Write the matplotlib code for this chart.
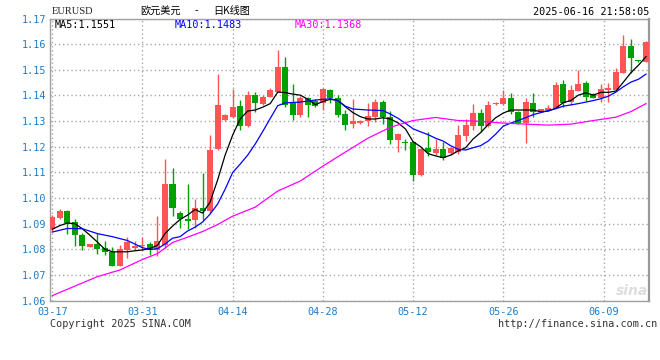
import matplotlib
matplotlib.use('Agg')
import matplotlib.pyplot as plt
import numpy as np

# ---------------- data ----------------
opens = [1.0880, 1.0923, 1.0950, 1.0908, 1.0855, 1.0810, 1.0820, 1.0803, 1.0790, 1.0735,
         1.0797, 1.0804, 1.0811, 1.0820, 1.0797, 1.0818, 1.1054, 1.0942, 1.0917, 1.0914,
         1.0959, 1.0950, 1.1192, 1.1304, 1.1316, 1.1358, 1.1280, 1.1401, 1.1366, 1.1394,
         1.1414, 1.1511, 1.1369, 1.1323, 1.1389, 1.1379, 1.1369, 1.1423, 1.1389, 1.1327,
         1.1287, 1.1293, 1.1300, 1.1316, 1.1375, 1.1316, 1.1226, 1.1219, 1.1219, 1.1089,
         1.1193, 1.1174, 1.1190, 1.1176, 1.1180, 1.1241, 1.1280, 1.1332, 1.1281, 1.1365,
         1.1365, 1.1391, 1.1335, 1.1292, 1.1370, 1.1341, 1.1343, 1.1352, 1.1443, 1.1376,
         1.1418, 1.1448, 1.1405, 1.1391, 1.1423, 1.1423, 1.1489, 1.1592, 1.1538, 1.1531]
highs = [1.0933, 1.0958, 1.0952, 1.0916, 1.0865, 1.0821, 1.0865, 1.0832, 1.0810, 1.0818,
         1.0847, 1.0834, 1.0848, 1.0830, 1.0931, 1.1151, 1.1115, 1.0950, 1.1054, 1.0994,
         1.1096, 1.1244, 1.1483, 1.1327, 1.1426, 1.1382, 1.1418, 1.1414, 1.1401, 1.1430,
         1.1577, 1.1550, 1.1444, 1.1399, 1.1393, 1.1387, 1.1430, 1.1426, 1.1403, 1.1344,
         1.1387, 1.1305, 1.1371, 1.1386, 1.1384, 1.1338, 1.1252, 1.1229, 1.1222, 1.1193,
         1.1256, 1.1229, 1.1219, 1.1198, 1.1284, 1.1308, 1.1367, 1.1348, 1.1379, 1.1374,
         1.1421, 1.1409, 1.1338, 1.1391, 1.1408, 1.1348, 1.1362, 1.1452, 1.1460, 1.1440,
         1.1499, 1.1458, 1.1408, 1.1446, 1.1449, 1.1505, 1.1635, 1.1620, 1.1540, 1.1611]
lows = [1.0871, 1.0918, 1.0858, 1.0812, 1.0797, 1.0808, 1.0782, 1.0776, 1.0733, 1.0733,
        1.0767, 1.0797, 1.0797, 1.0777, 1.0775, 1.0803, 1.0929, 1.0881, 1.0877, 1.0881,
        1.0914, 1.0943, 1.1188, 1.1300, 1.1313, 1.1265, 1.1278, 1.1336, 1.1364, 1.1392,
        1.1412, 1.1355, 1.1306, 1.1317, 1.1316, 1.1354, 1.1343, 1.1369, 1.1317, 1.1266,
        1.1274, 1.1290, 1.1282, 1.1296, 1.1290, 1.1211, 1.1179, 1.1187, 1.1068, 1.1085,
        1.1164, 1.1167, 1.1150, 1.1167, 1.1171, 1.1223, 1.1265, 1.1258, 1.1278, 1.1362,
        1.1362, 1.1327, 1.1288, 1.1213, 1.1315, 1.1339, 1.1341, 1.1350, 1.1355, 1.1362,
        1.1416, 1.1378, 1.1388, 1.1375, 1.1376, 1.1420, 1.1486, 1.1489, 1.1532, 1.1529]
closes = [1.0925, 1.0951, 1.0903, 1.0855, 1.0812, 1.0819, 1.0799, 1.0790, 1.0735, 1.0800,
          1.0827, 1.0814, 1.0818, 1.0797, 1.0831, 1.1054, 1.0959, 1.0916, 1.0911, 1.0959,
          1.0950, 1.1189, 1.1362, 1.1323, 1.1353, 1.1280, 1.1401, 1.1369, 1.1394, 1.1421,
          1.1511, 1.1362, 1.1323, 1.1391, 1.1362, 1.1359, 1.1426, 1.1389, 1.1324, 1.1286,
          1.1300, 1.1302, 1.1319, 1.1375, 1.1316, 1.1226, 1.1249, 1.1216, 1.1089, 1.1190,
          1.1178, 1.1190, 1.1154, 1.1193, 1.1245, 1.1284, 1.1332, 1.1281, 1.1362, 1.1371,
          1.1391, 1.1336, 1.1292, 1.1375, 1.1335, 1.1346, 1.1350, 1.1440, 1.1372, 1.1421,
          1.1443, 1.1394, 1.1391, 1.1424, 1.1430, 1.1492, 1.1592, 1.1547, 1.1534, 1.1609]

ma5 = [1.0878, 1.0892, 1.0902, 1.0900, 1.0880, 1.0855, 1.0828, 1.0800, 1.0790, 1.0790,
       1.0790, 1.0794, 1.0797, 1.0803, 1.0815, 1.0861, 1.0890, 1.0916, 1.0933, 1.0955,
       1.0941, 1.0984, 1.1070, 1.1167, 1.1245, 1.1308, 1.1339, 1.1343, 1.1354, 1.1368,
       1.1413, 1.1411, 1.1405, 1.1401, 1.1385, 1.1364, 1.1376, 1.1385, 1.1380, 1.1356,
       1.1333, 1.1317, 1.1308, 1.1308, 1.1313, 1.1308, 1.1293, 1.1269, 1.1220, 1.1200,
       1.1173, 1.1164, 1.1157, 1.1167, 1.1183, 1.1196, 1.1230, 1.1255, 1.1286, 1.1313,
       1.1331, 1.1343, 1.1343, 1.1343, 1.1343, 1.1336, 1.1339, 1.1350, 1.1372, 1.1380,
       1.1401, 1.1410, 1.1401, 1.1412, 1.1412, 1.1417, 1.1452, 1.1489, 1.1518, 1.1551]

ma10_idx = [0, 2, 4, 6, 8, 10, 12, 13, 14, 15, 16, 17, 18, 19, 20, 21, 22, 23, 24, 25,
            26, 27, 28, 29, 30, 31, 33, 35, 37, 38, 39, 40, 42, 44, 45, 46, 47, 48, 49, 50,
            51, 52, 53, 54, 55, 56, 57, 58, 59, 60, 61, 62, 64, 66, 67, 68, 70, 72, 73, 74,
            75, 76, 77, 78, 79]
ma10 = [1.0867, 1.0881, 1.0880, 1.0861, 1.0849, 1.0834, 1.0806, 1.0799, 1.0802, 1.0820,
        1.0843, 1.0849, 1.0871, 1.0886, 1.0906, 1.0937, 1.0976, 1.1034, 1.1099, 1.1132,
        1.1167, 1.1210, 1.1259, 1.1310, 1.1360, 1.1371, 1.1374, 1.1382, 1.1387, 1.1380,
        1.1358, 1.1347, 1.1343, 1.1341, 1.1327, 1.1311, 1.1291, 1.1270, 1.1258, 1.1247,
        1.1233, 1.1222, 1.1204, 1.1190, 1.1187, 1.1196, 1.1204, 1.1222, 1.1249, 1.1280,
        1.1292, 1.1302, 1.1325, 1.1341, 1.1348, 1.1358, 1.1368, 1.1380, 1.1387, 1.1397,
        1.1413, 1.1434, 1.1452, 1.1463, 1.1483]

ma30_idx = [0, 3, 6, 9, 12, 14, 16, 18, 20, 22, 24, 27, 30, 33, 36, 39, 42, 45, 48, 51,
            54, 57, 60, 63, 66, 69, 72, 75, 77, 79]
ma30 = [1.0619, 1.0656, 1.0693, 1.0719, 1.0760, 1.0783, 1.0826, 1.0847, 1.0869, 1.0896,
        1.0929, 1.0964, 1.1027, 1.1066, 1.1124, 1.1179, 1.1233, 1.1276, 1.1302, 1.1314,
        1.1302, 1.1299, 1.1292, 1.1288, 1.1284, 1.1288, 1.1302, 1.1315, 1.1337, 1.1368]

date_ticks = [0, 12, 24, 36, 48, 60, 73.4]
date_labels = ['03-17', '03-31', '04-14', '04-28', '05-12', '05-26', '06-09']
price_ticks = [1.06, 1.07, 1.08, 1.09, 1.10, 1.11, 1.12, 1.13, 1.14, 1.15, 1.16, 1.17]

title_parts = ['欧元美元', '-', '日K线图']
symbol_text = 'EURUSD'
time_text = '2025-06-16 21:58:05'
legend_texts = ['MA5:1.1551', 'MA10:1.1483', 'MA30:1.1368']

# ---------------- style ----------------
RED = '#FF5454'
GREEN = '#00A000'
TICK_BLUE = '#1E7CC8'
GRID = '#A8A8A8'
MONO = 'DejaVu Sans Mono'

W, H = 660, 360
fig = plt.figure(figsize=(6.6, 3.6), dpi=100)
fig.patch.set_facecolor('white')
ax = fig.add_axes([50 / W, 1 - 300.5 / H, 599 / W, 282 / H])

o = np.array(opens); h = np.array(highs); l = np.array(lows); c = np.array(closes)
x = np.arange(len(o))
cols = np.where(c >= o, RED, GREEN)

ax.vlines(x, l, h, colors=cols, linewidth=1.0, zorder=2)
ax.bar(x, np.maximum(np.abs(c - o), 0.00028), bottom=np.minimum(o, c), width=0.8,
       color=cols, linewidth=0, zorder=3)

ax.plot(x, ma5, color='black', linewidth=0.9, zorder=4)
ax.plot(ma10_idx, ma10, color='#0000FF', linewidth=0.9, zorder=4)
ax.plot(ma30_idx, ma30, color='#FF00FF', linewidth=0.9, zorder=4)

ax.set_xlim(-0.3, 79.4)
ax.set_ylim(1.06, 1.17)
ax.set_yticks(price_ticks)
ax.set_yticklabels(['%.2f' % v for v in price_ticks])
ax.set_xticks(date_ticks)
ax.set_xticklabels(date_labels)
ax.grid(True, color=GRID, linestyle=(0, (1, 2)), linewidth=1.0, zorder=0)
ax.set_axisbelow(True)
ax.tick_params(length=0, colors=TICK_BLUE, labelsize=7.3)
ax.tick_params(axis='y', pad=3)
ax.tick_params(axis='x', pad=5)
for lab in ax.get_xticklabels() + ax.get_yticklabels():
    lab.set_fontfamily(MONO)
for s in ['left', 'top', 'bottom']:
    ax.spines[s].set_color('#A0A0A0')
    ax.spines[s].set_linewidth(1.0)
ax.spines['right'].set_color('#999999')
ax.spines['right'].set_linewidth(1.6)

def fxy(px, py):
    return px / W, 1 - py / H

cjk = ['Noto Sans CJK SC', 'DejaVu Sans']
fig.text(*fxy(52, 12), symbol_text, family='Liberation Serif', fontsize=7.5, va='center',
         color='#222222')
for part, px in zip(title_parts, [140, 195, 213]):
    fig.text(*fxy(px, 11), part, family=cjk, fontsize=7.3, va='center', color='black')
fig.text(*fxy(649, 12), time_text, family=MONO, fontsize=7.3, va='center', ha='right',
         color='black')
for t, px, col in zip(legend_texts, [55, 175, 295], ['black', '#0000FF', '#FF00FF']):
    fig.text(*fxy(px, 24.5), t, family=MONO, fontsize=7.3, va='center', color=col)

fig.text(*fxy(50, 324), 'Copyright 2025 SINA.COM', family=MONO, fontsize=7.3,
         va='center', color='#333333')
fig.text(*fxy(657, 324), 'http://finance.sina.com.cn', family=MONO, fontsize=7.3,
         va='center', ha='right', color='#333333')
fig.text(*fxy(648, 291), 'sina', family='DejaVu Sans', fontsize=10, style='italic',
         weight='bold', va='center', ha='right', color='#DDDDDD')

fig.savefig('out.png', dpi=100)
